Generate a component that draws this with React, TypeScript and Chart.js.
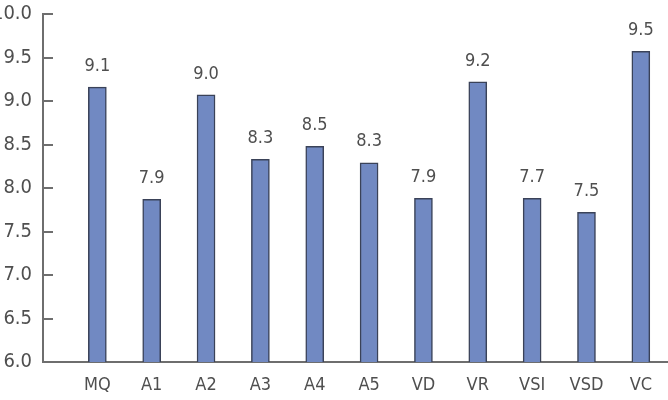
import React, { useEffect, useRef } from 'react';
import { Chart, registerables } from 'chart.js';
Chart.register(...registerables);

const categories = ['MQ', 'A1', 'A2', 'A3', 'A4', 'A5', 'VD', 'VR', 'VSI', 'VSD', 'VC'];
const barValues = [9.16, 7.87, 9.07, 8.33, 8.48, 8.29, 7.88, 9.22, 7.88, 7.72, 9.57];
const valueLabels = ['9.1', '7.9', '9.0', '8.3', '8.5', '8.3', '7.9', '9.2', '7.7', '7.5', '9.5'];
const yTickLabels = ['6.0', '6.5', '7.0', '7.5', '8.0', '8.5', '9.0', '9.5', '10.0'];
const yMin = 6;
const yMax = 10;
const yStep = 0.5;

const FONT = '"DejaVu Sans Condensed", "Liberation Sans Narrow", sans-serif';
const TEXT = '#4f4f4f';
const AXIS = '#6e6e6e';

const valueLabelPlugin = {
  id: 'valueLabels',
  afterDatasetsDraw(chart: any) {
    const ctx = chart.ctx;
    const meta = chart.getDatasetMeta(0);
    ctx.save();
    ctx.font = `18px ${FONT}`;
    ctx.fillStyle = TEXT;
    ctx.textAlign = 'center';
    ctx.textBaseline = 'middle';
    meta.data.forEach((bar: any, i: number) => {
      ctx.fillText(valueLabels[i], bar.x, bar.y - 21);
    });
    ctx.restore();
  },
};

const innerTicksPlugin = {
  id: 'innerTicks',
  afterDraw(chart: any) {
    const ctx = chart.ctx;
    const y = chart.scales.y;
    const left = chart.chartArea.left;
    ctx.save();
    ctx.strokeStyle = AXIS;
    ctx.lineWidth = 2;
    y.ticks.forEach((t: any) => {
      const py = Math.round(y.getPixelForValue(t.value));
      ctx.beginPath();
      ctx.moveTo(left, py);
      ctx.lineTo(left + 10, py);
      ctx.stroke();
    });
    ctx.restore();
  },
};

export default function App() {
  const ref = useRef<HTMLCanvasElement>(null);
  useEffect(() => {
    if (!ref.current) return;
    const chart = new Chart(ref.current, {
      type: 'bar',
      data: {
        datasets: [
          {
            data: categories.map((c, i) => ({ x: i + 1, y: barValues[i] })) as any,
            backgroundColor: '#7189c2',
            borderColor: '#3a4258',
            borderWidth: 1.5,
            barThickness: 18,
          },
        ],
      },
      options: {
        responsive: false,
        animation: false,
        layout: { padding: { top: 14, right: 0, left: 0, bottom: 0 } },
        plugins: { legend: { display: false }, tooltip: { enabled: false } },
        scales: {
          x: {
            type: 'linear',
            offset: false,
            min: 0,
            max: 11.5,
            grid: { display: false, drawTicks: false },
            border: { display: true, color: AXIS, width: 2 },
            afterBuildTicks: (scale: any) => {
              scale.ticks = categories.map((_, i) => ({ value: i + 1 }));
            },
            afterFit: (scale: any) => {
              scale.height = 38;
              scale.paddingLeft = 0;
              scale.paddingRight = 0;
            },
            ticks: {
              autoSkip: false,
              maxRotation: 0,
              padding: 13,
              color: TEXT,
              font: { family: FONT, size: 18 },
              callback: (v: any) => categories[Number(v) - 1] ?? '',
            },
          },
          y: {
            type: 'linear',
            min: yMin,
            max: yMax,
            grid: { display: false, drawTicks: false },
            border: { display: true, color: AXIS, width: 2 },
            afterFit: (scale: any) => {
              scale.width = 43;
              scale.paddingTop = 0;
              scale.paddingBottom = 0;
            },
            ticks: {
              stepSize: yStep,
              padding: 11,
              color: TEXT,
              font: { family: FONT, size: 20 },
              callback: (_v: any, idx: number) => yTickLabels[idx],
            },
          },
        },
      },
      plugins: [valueLabelPlugin, innerTicksPlugin],
    });
    return () => chart.destroy();
  }, []);
  return (
    <div style={{ position: 'fixed', left: 0, top: 0, width: 668, height: 400, background: '#fff' }}>
      <canvas ref={ref} width={668} height={400} style={{ display: 'block' }} />
    </div>
  );
}
